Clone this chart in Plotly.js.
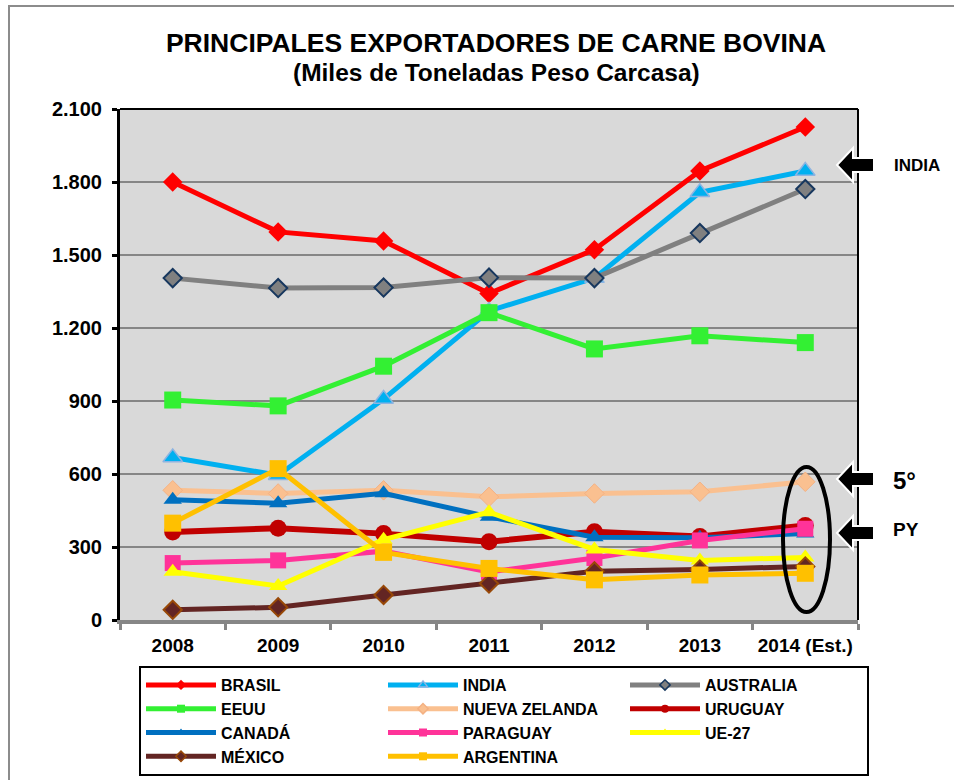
<!DOCTYPE html>
<html>
<head>
<meta charset="utf-8">
<script src="https://cdn.plot.ly/plotly-3.0.1.min.js"></script>
<style>html,body{margin:0;padding:0;background:#fff;}#chart{width:954px;height:780px;}</style>
</head>
<body>
<div id="chart"></div>
<script>
// ---- data ----
const years = ['2008', '2009', '2010', '2011', '2012', '2013', '2014 (Est.)'];
const brasil = [1800, 1595, 1558, 1342, 1522, 1845, 2026];
const india = [668, 595, 908, 1270, 1405, 1758, 1845];
const australia = [1405, 1364, 1366, 1407, 1405, 1590, 1771];
const eeuu = [904, 880, 1043, 1263, 1114, 1168, 1140];
const nuevaZelanda = [533, 520, 533, 506, 520, 527, 568];
const uruguay = [362, 377, 355, 322, 363, 343, 388];
const canada = [494, 480, 521, 424, 340, 338, 355];
const paraguay = [234, 245, 283, 197, 255, 327, 375];
const ue27 = [198, 140, 330, 443, 290, 245, 257];
const mexico = [42, 52, 103, 150, 200, 208, 220];
const argentina = [398, 622, 278, 212, 165, 185, 192];

const FONT = 'Liberation Sans, Arial, Helvetica, sans-serif';

const styles = [
  ['BRASIL', brasil, '#ff0000', 'diamond', 15, 5],
  ['INDIA', india, '#00b0f0', 'triangle-up', 17, 5, '#8db4e2', 1.5],
  ['AUSTRALIA', australia, '#808080', 'diamond', 14, 5, '#17375e', 2],
  ['EEUU', eeuu, '#33f033', 'square', 17, 5],
  ['NUEVA ZELANDA', nuevaZelanda, '#fac090', 'diamond', 15, 5, '#f4b183', 1],
  ['URUGUAY', uruguay, '#c00000', 'circle', 17, 6],
  ['CANADÁ', canada, '#0070c0', 'triangle-up', 16, 5],
  ['PARAGUAY', paraguay, '#ff3399', 'square', 16, 5],
  ['UE-27', ue27, '#ffff00', 'triangle-up', 16, 5],
  ['MÉXICO', mexico, '#632523', 'diamond', 14, 5, '#984807', 2],
  ['ARGENTINA', argentina, '#ffc000', 'square', 17, 5]
];

const traces = [];
// data traces (drawn on the plot)
styles.forEach(s => {
  traces.push({
    type: 'scatter', mode: 'lines+markers', name: s[0], x: years, y: s[1],
    legendgroup: s[0], showlegend: false,
    line: {color: s[2], width: s[5]},
    marker: {symbol: s[3], size: s[4], color: s[2], line: {color: s[6] || s[2], width: s[7] || 0}}
  });
});
// legend entries (small markers, like the original legend)
styles.forEach(s => {
  traces.push({
    type: 'scatter', mode: 'lines+markers', name: s[0], x: [null], y: [null],
    legendgroup: s[0], showlegend: true, hoverinfo: 'skip',
    line: {color: s[2], width: 5},
    marker: {symbol: s[3], size: 8, color: s[2], line: {color: s[6] || s[2], width: s[7] ? 1.5 : 0}}
  });
});

// pixel -> paper helpers for decorations (plot area 120..858 x 109..620)
const W = 954, H = 780;
const L = 120, R = 858, T = 109, B = 620;
const xp = px => (px - L) / (R - L);
const yp = py => (B - py) / (B - T);

function arrow(cy) {
  const pts = [[837, cy], [853, cy - 17], [853, cy - 7], [874, cy - 7], [874, cy + 7], [853, cy + 7], [853, cy + 17]];
  return {
    type: 'path', xref: 'paper', yref: 'paper', layer: 'above',
    path: 'M' + pts.map(p => xp(p[0]).toFixed(5) + ',' + yp(p[1]).toFixed(5)).join('L') + 'Z',
    fillcolor: '#000000', line: {color: '#ffffff', width: 2}
  };
}

const shapes = [
  {type: 'rect', xref: 'paper', yref: 'paper', x0: xp(9), x1: xp(1000), y0: yp(6), y1: yp(820),
   line: {color: '#8c8c8c', width: 2}, fillcolor: 'rgba(0,0,0,0)', layer: 'below'},
  {type: 'line', xref: 'paper', yref: 'paper', x0: 0, x1: 1, y0: 1, y1: 1, line: {color: '#000', width: 2}},
  {type: 'line', xref: 'paper', yref: 'paper', x0: 1, x1: 1, y0: 0, y1: 1, line: {color: '#000', width: 2}},
  {type: 'circle', xref: 'paper', yref: 'paper', x0: xp(783), x1: xp(830), y0: yp(467), y1: yp(612),
   line: {color: '#000', width: 4}, fillcolor: 'rgba(0,0,0,0)', layer: 'above'},
  arrow(165), arrow(479), arrow(533)
];

const annotations = [
  {xref: 'paper', yref: 'paper', x: xp(496), y: yp(72), xanchor: 'center', yanchor: 'middle', showarrow: false,
   text: '<b>(Miles de Toneladas Peso Carcasa)</b>', font: {family: FONT, size: 24.5, color: '#000'}},
  {xref: 'paper', yref: 'paper', x: xp(892), y: yp(165), xanchor: 'left', yanchor: 'middle', showarrow: false,
   text: '<b>INDIA</b>', font: {family: FONT, size: 17, color: '#000'}},
  {xref: 'paper', yref: 'paper', x: xp(891), y: yp(480), xanchor: 'left', yanchor: 'middle', showarrow: false,
   text: '<b>5°</b>', font: {family: FONT, size: 24, color: '#000'}},
  {xref: 'paper', yref: 'paper', x: xp(891), y: yp(529), xanchor: 'left', yanchor: 'middle', showarrow: false,
   text: '<b>PY</b>', font: {family: FONT, size: 19, color: '#000'}}
];

const layout = {
  width: W, height: H,
  margin: {l: L, r: W - R, t: T, b: H - B, pad: 0, autoexpand: false},
  paper_bgcolor: '#ffffff', plot_bgcolor: '#d9d9d9',
  separators: ',.',
  font: {family: FONT, color: '#000'},
  title: {text: '<b>PRINCIPALES EXPORTADORES DE CARNE BOVINA</b>', xref: 'paper', x: xp(496), xanchor: 'center',
          yref: 'container', y: 1 - 43 / H, yanchor: 'middle', font: {family: FONT, size: 26.5, color: '#000'}},
  xaxis: {
    type: 'category', range: [-0.5, 6.5], showline: true, linecolor: '#868686', linewidth: 4,
    ticks: 'outside', tickson: 'boundaries', ticklen: 6, tickcolor: '#868686', tickwidth: 3,
    showgrid: false, zeroline: false, fixedrange: true, tickangle: 0,
    tickfont: {family: FONT, size: 19, color: '#000', weight: 'bold'}, ticklabelstandoff: 5
  },
  yaxis: {
    range: [0, 2100], tick0: 0, dtick: 300, tickformat: ',d',
    showline: true, linecolor: '#000', linewidth: 3,
    ticks: 'outside', ticklen: 5, tickcolor: '#000', tickwidth: 3,
    showgrid: true, gridcolor: '#868686', gridwidth: 2, zeroline: false, fixedrange: true,
    tickfont: {family: FONT, size: 20, color: '#000', weight: 'bold'}, ticklabelstandoff: 6
  },
  legend: {
    orientation: 'h', xref: 'container', yref: 'container', x: 139 / W, y: 1 - 776 / H, xanchor: 'left', yanchor: 'bottom',
    entrywidth: 157, entrywidthmode: 'pixels', itemwidth: 70,
    bordercolor: '#000', borderwidth: 2, bgcolor: '#ffffff',
    font: {family: FONT, size: 16, color: '#000', weight: 'bold'}, itemsizing: 'trace', traceorder: 'normal'
  },
  showlegend: true,
  shapes: shapes,
  annotations: annotations
};

Plotly.newPlot('chart', traces, layout, {displayModeBar: false, staticPlot: true});
</script>
</body>
</html>
